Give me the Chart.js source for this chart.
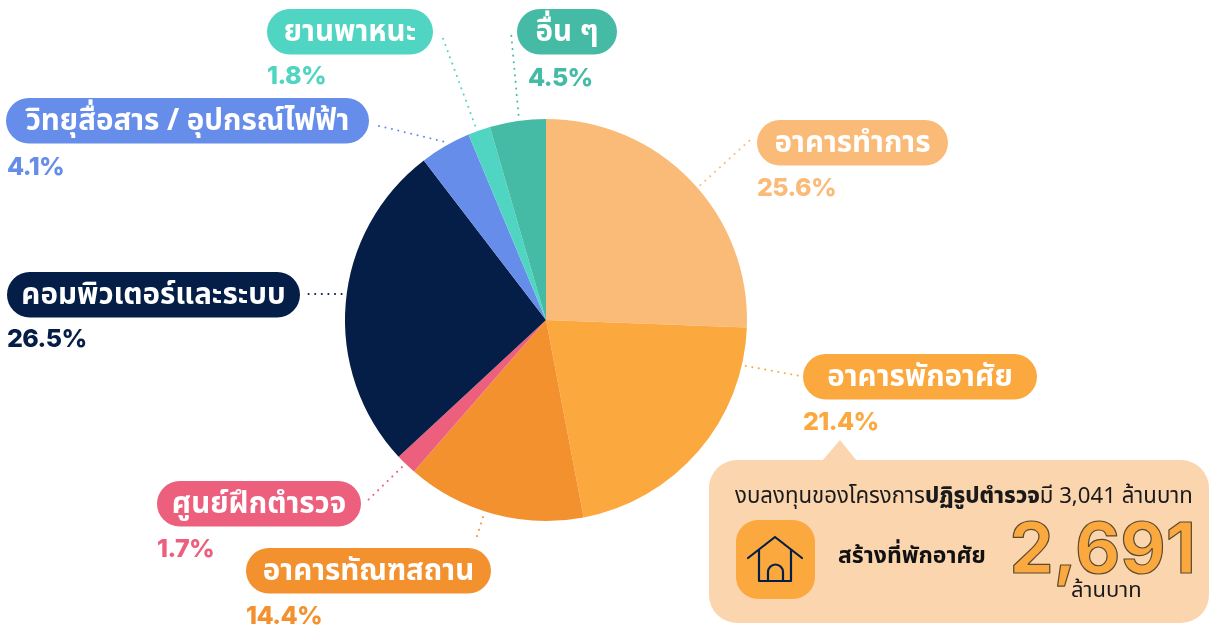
<!DOCTYPE html>
<html lang="th"><head><meta charset="utf-8">
<script src="https://cdn.jsdelivr.net/npm/chart.js@4/dist/chart.umd.min.js"></script>
<style>html,body{margin:0;padding:0;background:#fff;overflow:hidden}canvas{display:block}</style>
</head><body><canvas id="c" width="1209" height="625"></canvas>
<script>
const categories=["อาคารทำการ","อาคารพักอาศัย","อาคารทัณฑสถาน","ศูนย์ฝึกตำรวจ","คอมพิวเตอร์และระบบ","วิทยุสื่อสาร / อุปกรณ์ไฟฟ้า","ยานพาหนะ","อื่น ๆ"];
const values=[25.6,21.4,14.4,1.7,26.5,4.1,1.8,4.5];
const colors=["#FBBB78","#FBA93F","#F3912F","#EC5F7D","#051E47","#678DEA","#4FD5C2","#45BBA6"];
const pillX=[757,803,246,157,7,6,267,517];
const pillY=[120,354,548,481,272,98,9,9];
const pillW=[191,234,245,204,293,363,166,100];
const pctX=[757,803,246,157,7,7,267,528];
const pctY=[187,421,615,548,338,166,75,77];
const leadX=[750,800,475,366,304,375,441,511];
const leadY=[140,376,542,502,294,125,33,32];
const leadR=[205,205,207,206,206,206,207,207];
const leadF=[0.53,0.14,0.55,0.55,0.525,0.51,0.41,0.53];
const FONT='"Noto Sans Thai","Noto Sans","Noto Sans CJK SC",Inter,sans-serif';
const deco={id:'deco',afterDraw(ch){
 const x=ch.ctx,arcs=ch.getDatasetMeta(0).data;
 x.save();
 arcs.forEach((a,i)=>{
  const m=a.startAngle+(a.endAngle-a.startAngle)*leadF[i],r=leadR[i];
  const ax=a.x+Math.cos(m)*r,ay=a.y+Math.sin(m)*r;
  x.strokeStyle=colors[i];x.lineWidth=2;x.lineCap='round';x.setLineDash([0.1,6.5]);
  x.beginPath();x.moveTo(ax,ay);x.lineTo(leadX[i],leadY[i]);x.stroke();x.setLineDash([]);
  x.fillStyle=colors[i];
  x.beginPath();x.roundRect(pillX[i],pillY[i],pillW[i],45.5,22.7);x.fill();
  x.fillStyle='#fff';x.font='700 29.5px '+FONT;x.textAlign='center';x.textBaseline='middle';
  x.fillText(categories[i],pillX[i]+pillW[i]/2,pillY[i]+26);
  x.fillStyle=colors[i];x.font='800 25px Inter,'+FONT;x.textAlign='left';
  x.letterSpacing='-0.6px';
  x.fillText(values[i].toFixed(1)+'%',pctX[i],pctY[i]+1);
  x.letterSpacing='0px';
 });
 x.fillStyle='#FBD5AE';
 x.beginPath();x.moveTo(822,461);x.lineTo(840,440);x.lineTo(857,461);x.closePath();x.fill();
 x.beginPath();x.roundRect(709,460,500,163,28);x.fill();
 x.fillStyle='#1a1a1a';x.textBaseline='middle';x.textAlign='left';
 let cx=735;const cy=499;
 [["งบลงทุนของโครงการ",400],["ปฏิรูปตำรวจ",800],["มี 3,041 ล้านบาท",400]].forEach(([t,w])=>{
  x.font=w+' 22.2px '+FONT;x.fillText(t,cx,cy);cx+=x.measureText(t).width;});
 x.fillStyle='#FBA93F';x.beginPath();x.roundRect(736,520,79,79,22);x.fill();
 x.strokeStyle='#051E47';x.lineWidth=2.2;x.lineCap='round';x.lineJoin='round';
 x.beginPath();x.moveTo(748,558);x.lineTo(775,537);x.lineTo(802,558);x.stroke();
 x.beginPath();x.moveTo(759,550);x.lineTo(759,581);x.lineTo(791,581);x.lineTo(791,550);x.stroke();
 x.beginPath();x.moveTo(768,581);x.lineTo(768,572);x.arc(775.5,572,7.5,Math.PI,0);x.lineTo(783,581);x.stroke();
 x.fillStyle='#111';x.font='700 23px '+FONT;x.fillText('สร้างที่พักอาศัย',838,558);
 x.textBaseline='alphabetic';
 x.font='700 70px Inter,'+FONT;x.textAlign='right';x.lineWidth=1.2;x.strokeStyle='#5a4a30';
 x.fillStyle='#FBA93F';x.fillText('2,691',1196,573);x.strokeText('2,691',1196,573);
 x.textBaseline='middle';
 x.fillStyle='#1a1a1a';x.font='400 22px '+FONT;x.textAlign='left';x.fillText('ล้านบาท',1071,593);
 x.restore();
}};
new Chart(document.getElementById('c'),{type:'pie',
 data:{labels:categories,datasets:[{data:values,backgroundColor:colors,borderWidth:0,hoverOffset:0}]},
 options:{responsive:false,animation:false,events:[],
  layout:{padding:{left:345,right:462,top:119,bottom:104}},
  plugins:{legend:{display:false},tooltip:{enabled:false}}},
 plugins:[deco]});
</script></body></html>
